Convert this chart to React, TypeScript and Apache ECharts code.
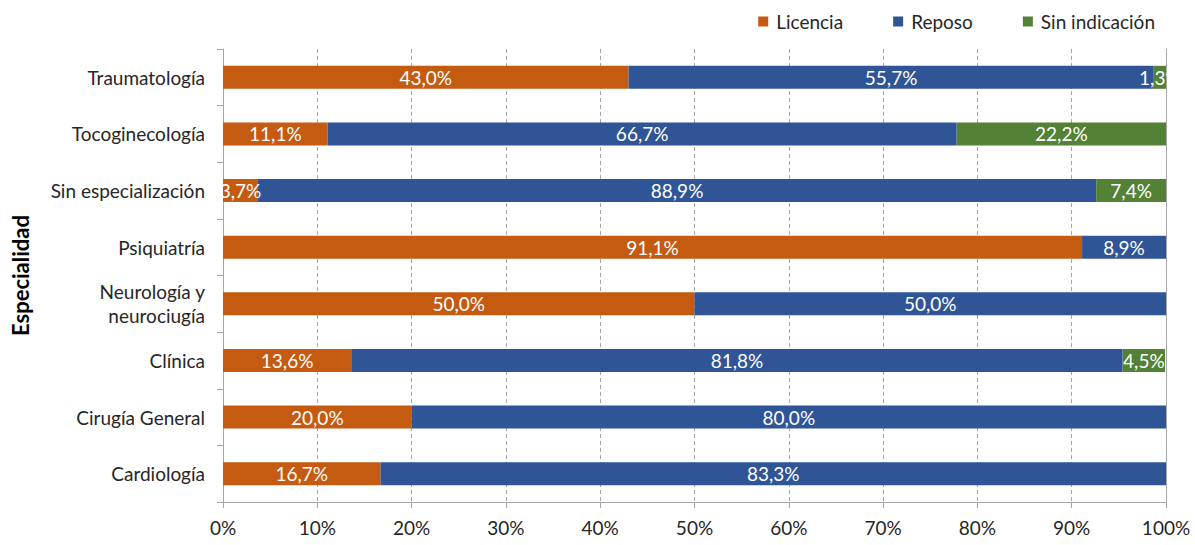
import React, { useEffect, useRef } from "react";
import * as echarts from "echarts";

const categories = [
  "Cardiología",
  "Cirugía General",
  "Clínica",
  "Neurología y\nneurociugía",
  "Psiquiatría",
  "Sin especialización",
  "Tocoginecología",
  "Traumatología",
];
const licencia = [16.7, 20.0, 13.6, 50.0, 91.1, 3.7, 11.1, 43.0];
const reposo = [83.3, 80.0, 81.8, 50.0, 8.9, 88.9, 66.7, 55.7];
const sinIndicacion = [0, 0, 4.5, 0, 0, 7.4, 22.2, 1.3];
const xTicks = [0, 10, 20, 30, 40, 50, 60, 70, 80, 90, 100];

const FONT = "Lato";
const FS = 19;
const GRID = { left: 223, right: 29, top: 49, bottom: 43 };
const BAR_W = 23;

export default function App() {
  const ref = useRef<HTMLDivElement>(null);
  useEffect(() => {
    if (!ref.current) return;
    const chart = echarts.init(ref.current, null, { renderer: "svg" });
    const fmt = (p: any) =>
      p.value > 0 ? p.value.toFixed(1).replace(".", ",") + "%" : "";
    const mk = (name: string, data: number[], color: string) => ({
      name,
      type: "bar",
      stack: "total",
      barWidth: BAR_W,
      data,
      itemStyle: { color },
      label: {
        show: true,
        position: "inside",
        color: "#ffffff",
        fontFamily: FONT,
        fontSize: FS,
        formatter: fmt,
      },
    });
    chart.setOption({
      animation: false,
      textStyle: { fontFamily: FONT },
      legend: {
        top: 7,
        right: 35,
        itemWidth: 10,
        itemHeight: 10,
        itemGap: 50,
        icon: "rect",
        textStyle: { fontFamily: FONT, fontSize: FS, color: "#262626", padding: [0, 0, 0, 3] },
        data: ["Licencia", "Reposo", "Sin indicación"],
      },
      grid: { ...GRID, containLabel: false, outerBoundsMode: "none" },
      xAxis: {
        type: "value",
        min: 0,
        max: 100,
        interval: 10,
        axisLine: { show: true, lineStyle: { color: "#a6a6a6" } },
        axisTick: { show: true, length: 6, lineStyle: { color: "#a6a6a6" } },
        splitLine: {
          show: true,
          lineStyle: { color: "#a6a6a6", type: [4, 3] },
        },
        axisLabel: {
          margin: 16,
          fontFamily: FONT,
          fontSize: FS,
          color: "#262626",
          formatter: (v: number) => (xTicks.includes(v) ? v + "%" : ""),
        },
      },
      yAxis: [
        {
          type: "category",
          data: categories,
          name: "Especialidad",
          nameLocation: "middle",
          nameGap: 192,
          nameRotate: 90,
          nameTextStyle: {
            fontFamily: FONT,
            fontSize: 22,
            fontWeight: "bold",
            color: "#000000",
          },
          axisLine: { show: true, lineStyle: { color: "#a6a6a6" } },
          axisTick: { show: true, length: 6, lineStyle: { color: "#a6a6a6" } },
          axisLabel: {
            margin: 18,
            fontFamily: FONT,
            fontSize: FS,
            color: "#262626",
            lineHeight: 24,
          },
        },
        {
          type: "category",
          data: categories,
          position: "right",
          axisLine: { show: true, lineStyle: { color: "#a6a6a6" } },
          axisTick: { show: false },
          axisLabel: { show: false },
        },
      ],
      series: [
        mk("Licencia", licencia, "#C55A11"),
        mk("Reposo", reposo, "#2F5597"),
        mk("Sin indicación", sinIndicacion, "#538135"),
      ],
    });
    // clip labels to the plot area by masking the parts outside the bar bands
    const w = chart.getWidth();
    const graphics: any[] = [];
    categories.forEach((_, i) => {
      const y = chart.convertToPixel({ yAxisIndex: 0 }, i) as number;
      const x0 = chart.convertToPixel({ xAxisIndex: 0 }, 0) as number;
      const x1 = chart.convertToPixel({ xAxisIndex: 0 }, 100) as number;
      graphics.push({
        type: "rect",
        z: 100,
        shape: { x: x0 - 14, y: y - BAR_W / 2, width: 13.5, height: BAR_W },
        style: { fill: "#ffffff" },
      });
      graphics.push({
        type: "rect",
        z: 100,
        shape: { x: x1 + 1, y: y - BAR_W / 2, width: w - x1, height: BAR_W },
        style: { fill: "#ffffff" },
      });
    });
    chart.setOption({ graphic: graphics });
    return () => chart.dispose();
  }, []);
  return (
    <div
      ref={ref}
      style={{ width: 1195, height: 545, position: "absolute", left: 0, top: 0 }}
    />
  );
}
